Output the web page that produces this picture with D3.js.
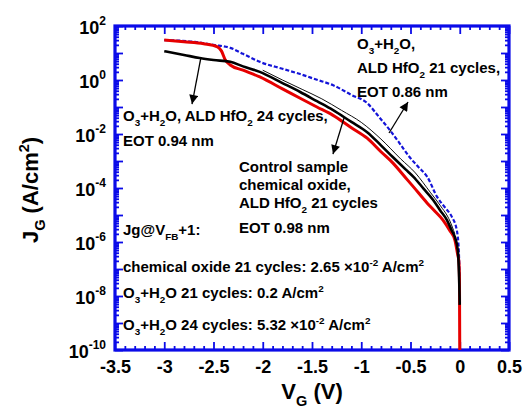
<!DOCTYPE html>
<html><head><meta charset="utf-8">
<script src="https://cdn.jsdelivr.net/npm/d3@7/dist/d3.min.js"></script>
<style>
body{margin:0;background:#fff;}
svg{display:block;font-family:"Liberation Sans",Arial,sans-serif;font-weight:bold;}
</style></head><body><svg id="c" width="523" height="411"></svg>
<script>
// ---- data ----
const redV = [-3.0,-2.8,-2.6,-2.46,-2.42,-2.38,-2.33,-2.2,-2.03,-1.8,-1.62,-1.45,-1.29,-1.1,-0.94,-0.8,-0.68,-0.55,-0.47,-0.33,-0.25,-0.17,-0.1,-0.05,-0.02,-0.01,-0.003,0];
const redJ = [30,26,22,17,12,5.5,3.6,2.3,1.3,0.47,0.21,0.1,0.05,0.017,0.007,0.0022,8.5e-4,2.4e-4,1.1e-4,2.75e-5,1.35e-5,6.5e-6,2.6e-6,1.2e-6,3.3e-7,2.1e-7,5e-8,1e-10];
const blackV = [-3.0,-2.8,-2.64,-2.5,-2.33,-2.2,-2.03,-1.8,-1.62,-1.45,-1.29,-1.1,-0.94,-0.8,-0.68,-0.55,-0.47,-0.37,-0.27,-0.2,-0.13,-0.08,-0.05,-0.02,-0.005,0];
const blackJ = [11.7,8.5,6.5,5.5,4.7,3.2,2.0,0.77,0.36,0.164,0.078,0.028,0.0117,0.0038,0.0014,4.9e-4,2.6e-4,9.7e-5,3.6e-5,1.5e-5,6.5e-6,2.6e-6,1.55e-6,5e-7,3e-8,4.7e-9];
const thinV = [-2.0,-1.8,-1.6,-1.4,-1.2,-1.0,-0.8,-0.6,-0.45,-0.3,-0.2,-0.1,-0.05];
const thinJ = [2.3,1.0,0.45,0.2,0.075,0.027,0.0065,1.2e-3,3.6e-4,7e-5,2.3e-5,6e-6,2e-6];
const blueV = [-3.0,-2.69,-2.5,-2.33,-2.2,-2.03,-1.8,-1.62,-1.45,-1.29,-1.1,-0.94,-0.82,-0.71,-0.6,-0.51,-0.42,-0.33,-0.23,-0.15,-0.08,-0.03,-0.01,0];
const blueJ = [30,25.7,20,15.5,9.3,4.7,2.6,1.66,1.02,0.65,0.28,0.14,0.043,0.014,0.004,0.0014,6e-4,2.6e-4,4.7e-5,1.9e-5,8.5e-6,2.75e-6,5e-7,3.9e-8];

const xTicks = [-3.5,-3,-2.5,-2,-1.5,-1,-0.5,0,0.5];
const xTickLabels = ["-3.5","-3","-2.5","-2","-1.5","-1","-0.5","0","0.5"];
const yLabelExps = [2,0,-2,-4,-6,-8,-10];

// ---- layout ----
const svg = d3.select("#c");
const L=115, R=509, T=26, B=350;
const x = d3.scaleLinear().domain([-3.5,0.5]).range([L,R]);
const y = d3.scaleLog().domain([1e-10,1e2]).range([B,T]);
const axisBlue = "#0b0be8";

// ticks
const decades = d3.range(-10,3).map(e=>Math.pow(10,e));
const minors = [];
for (let e=-10;e<2;e++) for (let m=2;m<=9;m++) minors.push(m*Math.pow(10,e));
const xMinor = d3.range(-35,6).map(i=>i/10).filter(v=>Math.abs(v*2-Math.round(v*2))>1e-6);

function styleAxis(g){ g.select(".domain").remove(); g.selectAll(".tick line").attr("stroke",axisBlue).attr("stroke-width",1.8); g.selectAll("text").remove(); }

svg.append("g").attr("transform",`translate(${L},0)`).call(d3.axisLeft(y).tickValues(decades).tickSize(-8)).call(styleAxis);
svg.append("g").attr("transform",`translate(${L},0)`).call(d3.axisLeft(y).tickValues(minors).tickSize(-4)).call(styleAxis);
svg.append("g").attr("transform",`translate(${R},0)`).call(d3.axisRight(y).tickValues(decades).tickSize(-8)).call(styleAxis);
svg.append("g").attr("transform",`translate(${R},0)`).call(d3.axisRight(y).tickValues(minors).tickSize(-4)).call(styleAxis);
svg.append("g").attr("transform",`translate(0,${B})`).call(d3.axisBottom(x).tickValues(xTicks).tickSize(-8)).call(styleAxis);
svg.append("g").attr("transform",`translate(0,${B})`).call(d3.axisBottom(x).tickValues(xMinor).tickSize(-4)).call(styleAxis);
svg.append("g").attr("transform",`translate(0,${T})`).call(d3.axisTop(x).tickValues(xTicks).tickSize(-8)).call(styleAxis);
svg.append("g").attr("transform",`translate(0,${T})`).call(d3.axisTop(x).tickValues(xMinor).tickSize(-4)).call(styleAxis);

// x labels
const xl = svg.append("g").attr("transform",`translate(0,${B})`)
  .call(d3.axisBottom(x).tickValues(xTicks).tickSize(0).tickPadding(10).tickFormat((d,i)=>xTickLabels[i]));
xl.select(".domain").remove();
xl.selectAll("text").attr("font-size",18).attr("font-weight","bold").attr("fill","#000").attr("font-family","Liberation Sans, Arial, sans-serif");

// y labels with superscripts
const yl = svg.append("g").attr("transform",`translate(${L},0)`)
  .call(d3.axisLeft(y).tickValues(yLabelExps.map(e=>Math.pow(10,e))).tickSize(0).tickPadding(9).tickFormat(""));
yl.select(".domain").remove();
yl.selectAll(".tick text").each(function(d){
  const e = Math.round(Math.log10(d));
  const t = d3.select(this).attr("font-size",18).attr("font-weight","bold").attr("fill","#000")
    .attr("font-family","Liberation Sans, Arial, sans-serif").attr("dy","0.42em");
  t.append("tspan").text("10");
  t.append("tspan").attr("font-size",12).attr("dy","-0.75em").text(String(e));
});

// frame
svg.append("rect").attr("x",L).attr("y",T).attr("width",R-L).attr("height",B-T)
  .attr("fill","none").attr("stroke",axisBlue).attr("stroke-width",3.2);

// curves
const line = d3.line().x(d=>x(d[0])).y(d=>y(d[1])).curve(d3.curveMonotoneX);
const zip=(a,b)=>a.map((v,i)=>[v,b[i]]);
svg.append("clipPath").attr("id","pc").append("rect").attr("x",L).attr("y",T).attr("width",R-L).attr("height",B-T);
const pg = svg.append("g").attr("clip-path","url(#pc)");
pg.append("path").datum(zip(blueV,blueJ)).attr("d",line).attr("fill","none").attr("stroke","#1414d8").attr("stroke-width",2.2).attr("stroke-dasharray","4,2");
pg.append("path").datum(zip(thinV,thinJ)).attr("d",line).attr("fill","none").attr("stroke","#111").attr("stroke-width",1);
pg.append("path").datum(zip(redV,redJ)).attr("d",line).attr("fill","none").attr("stroke","#e60000").attr("stroke-width",3);
pg.append("path").datum(zip(blackV,blackJ)).attr("d",line).attr("fill","none").attr("stroke","#000").attr("stroke-width",2.6);

// arrows
svg.append("defs").append("marker").attr("id","ah").attr("viewBox","0 0 10 10").attr("refX",10).attr("refY",5)
  .attr("markerWidth",11).attr("markerHeight",9).attr("markerUnits","userSpaceOnUse").attr("orient","auto")
  .append("path").attr("d","M0,0L10,5L0,10Z").attr("fill","#000");
const arrows = [
  [[-2.627,7.1],[-2.718,0.129]],
  [[-0.718,0.0109],[-0.525,0.153]],
  [[-1.175,0.039],[-1.287,0.0018]]
];
arrows.forEach(a=>{
  svg.append("line").attr("x1",x(a[0][0])).attr("y1",y(a[0][1])).attr("x2",x(a[1][0])).attr("y2",y(a[1][1]))
    .attr("stroke","#000").attr("stroke-width",1.3).attr("marker-end","url(#ah)");
});

// rich text helper: parts = [[text, ""|"sub"|"sup"], ...]
function rich(xp, yp, parts, size){
  const t = svg.append("text").attr("x",xp).attr("y",yp).attr("font-size",size).attr("fill","#000");
  let off = 0;
  parts.forEach(p=>{
    const target = p[1]==="sub" ? size*0.3 : p[1]==="sup" ? -size*0.42 : 0;
    t.append("tspan").attr("dy",target-off).attr("font-size", p[1] ? size*0.66 : size).text(p[0]);
    off = target;
  });
  return t;
}
const fs = 15;
rich(123,121,[["O",""],["3","sub"],["+H",""],["2","sub"],["O, ALD HfO",""],["2","sub"],[" 24 cycles,",""]],fs);
rich(123,146,[["EOT 0.94 nm",""]],fs);
rich(357,49,[["O",""],["3","sub"],["+H",""],["2","sub"],["O,",""]],fs);
rich(357,73,[["ALD HfO",""],["2","sub"],[" 21 cycles,",""]],fs);
rich(357,97,[["EOT 0.86 nm",""]],fs);
rich(239,172,[["Control sample",""]],fs);
rich(239,190,[["chemical oxide,",""]],fs);
rich(239,208,[["ALD HfO",""],["2","sub"],[" 21 cycles",""]],fs);
rich(239,233,[["EOT 0.98 nm",""]],fs);
rich(123,235,[["Jg@V",""],["FB","sub"],["+1:",""]],fs);
rich(123,272,[["chemical oxide 21 cycles: 2.65 ×10",""],["-2","sup"],[" A/cm",""],["2","sup"]],fs);
rich(123,298,[["O",""],["3","sub"],["+H",""],["2","sub"],["O 21 cycles: 0.2 A/cm",""],["2","sup"]],fs);
rich(123,330,[["O",""],["3","sub"],["+H",""],["2","sub"],["O 24 cycles: 5.32 ×10",""],["-2","sup"],[" A/cm",""],["2","sup"]],fs);

// axis titles
rich(0,0,[["V",""],["G","sub"],[" (V)",""]],22).attr("x",312).attr("y",399).attr("text-anchor","middle");
rich(0,0,[["J",""],["G","sub"],[" (A/cm",""],["2","sup"],[")",""]],22)
  .attr("text-anchor","middle").attr("transform","translate(38,190) rotate(-90)");
</script></body></html>
